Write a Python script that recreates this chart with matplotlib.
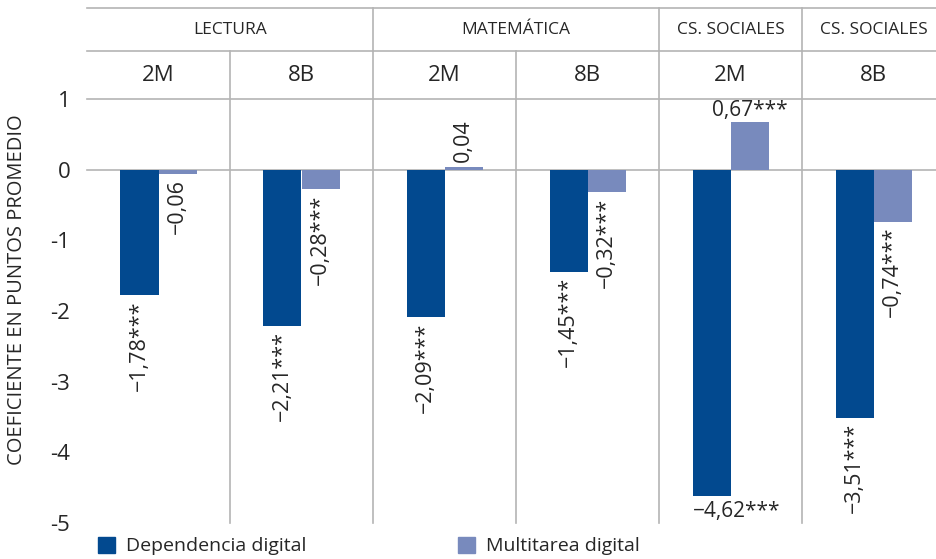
import matplotlib
matplotlib.use('Agg')
import matplotlib.pyplot as plt
from matplotlib.patches import Rectangle

plt.rcParams['font.family'] = ['Open Sans', 'DejaVu Sans']

subjects = ["LECTURA", "MATEMÁTICA", "CS. SOCIALES", "CS. SOCIALES"]
subject_spans = [2, 2, 1, 1]
grades = ["2M", "8B", "2M", "8B", "2M", "8B"]
dependencia = [-1.78, -2.21, -2.09, -1.45, -4.62, -3.51]
multitarea = [-0.06, -0.28, 0.04, -0.32, 0.67, -0.74]
dep_labels = ["−1,78***", "−2,21***", "−2,09***", "−1,45***", "−4,62***", "−3,51***"]
mul_labels = ["−0,06", "−0,28***", "0,04", "−0,32***", "0,67***", "−0,74***"]
yticks = [1, 0, -1, -2, -3, -4, -5]
ytick_labels = ["1", "0", "-1", "-2", "-3", "-4", "-5"]

dark = "#02498f"
light = "#788abd"
grid = "#b4b4b4"
txt = "#262626"

W, H = 937, 559
fig = plt.figure(figsize=(W / 100, H / 100), dpi=100)
ax = fig.add_axes([87 / W, (H - 523) / H, (W - 87) / W, (523 - 99) / H])

col_w = 143.0
ax.set_xlim(0, (W - 87) / col_w)
ax.set_ylim(-5, 1)
px = (523 - 99) / 6.0  # pixels per unit

bw = 38 / col_w
centers = [i + 0.5 for i in range(len(grades))]
ax.bar([c - bw / 2 for c in centers], dependencia, width=bw, color=dark, zorder=3)
ax.bar([c + bw / 2 for c in centers], multitarea, width=bw, color=light, zorder=3)

for s in ax.spines.values():
    s.set_visible(False)
ax.set_xticks([])
ax.set_yticks(yticks)
ax.set_yticklabels(ytick_labels, fontsize=16, color=txt)
ax.tick_params(axis='y', length=0, pad=12)

# horizontal lines: zero, top of plot, and header rows
y_row1 = 1 + (99 - 51) / px
y_top = 1 + (99 - 8) / px
for yy in [0, 1, y_row1, y_top]:
    ax.plot([0, 6], [yy, yy], color=grid, lw=1.2, clip_on=False, zorder=2)

# vertical separators
for i in range(1, 6):
    ax.plot([i, i], [-5, y_row1], color=grid, lw=1.2, clip_on=False, zorder=2)
start = 0
for span in subject_spans:
    start += span
    if start < 6:
        ax.plot([start, start], [y_row1, y_top], color=grid, lw=1.2, clip_on=False, zorder=2)

# header texts
start = 0
for name, span in zip(subjects, subject_spans):
    ax.text(start + span / 2, (y_row1 + y_top) / 2, name, ha='center', va='center',
            fontsize=12.5, color=txt, clip_on=False)
    start += span
for c, g in zip(centers, grades):
    ax.text(c, (1 + y_row1) / 2, g, ha='center', va='center', fontsize=16, color=txt)

# value labels
off = 5 / px
for i, c in enumerate(centers):
    xd = c - bw / 2
    xm = c + bw / 2
    v = dependencia[i]
    if v < -4:
        ax.text(c - bw, v - off, dep_labels[i], ha='left', va='top', fontsize=15, color=txt)
    else:
        ax.text(xd, v - off, dep_labels[i], ha='center', va='top', rotation=90,
                fontsize=15.5, color=txt)
    m = multitarea[i]
    if m > 0.5:
        ax.text(xm, m + 1 / px, mul_labels[i], ha='center', va='bottom', fontsize=15, color=txt)
    elif m > 0:
        ax.text(xm, m + off, mul_labels[i], ha='center', va='bottom', rotation=90,
                fontsize=15.5, color=txt)
    else:
        ax.text(xm, m - off, mul_labels[i], ha='center', va='top', rotation=90,
                fontsize=15.5, color=txt)

fig.text(17 / W, 1 - 290 / H, "COEFICIENTE EN PUNTOS PROMEDIO", rotation=90,
         ha='center', va='center', fontsize=14.5, color=txt)

# legend
for x0, col, lab in [(98, dark, "Dependencia digital"), (458, light, "Multitarea digital")]:
    fig.patches.append(Rectangle((x0 / W, 1 - 553 / H), 17 / W, 16 / H,
                                 transform=fig.transFigure, color=col))
    fig.text((x0 + 28) / W, 1 - 546 / H, lab, ha='left', va='center', fontsize=14,
             color=txt)

fig.savefig("out.png", dpi=100)
